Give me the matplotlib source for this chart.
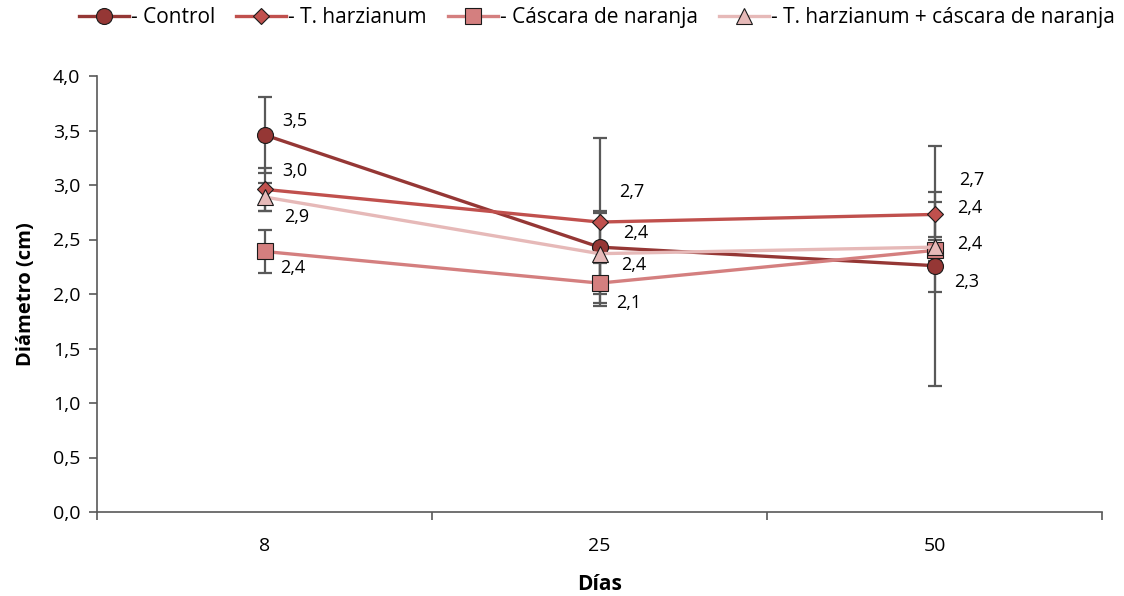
import matplotlib
matplotlib.use("Agg")
import matplotlib.pyplot as plt
import numpy as np

plt.rcParams['font.family'] = ['Open Sans', 'DejaVu Sans']

days = ["8", "25", "50"]
series_names = ["- Control", "- T. harzianum", "- Cáscara de naranja",
                "- T. harzianum + cáscara de naranja"]
control = [3.46, 2.43, 2.26]
harzianum = [2.96, 2.66, 2.73]
cascara = [2.39, 2.10, 2.40]
combo = [2.89, 2.37, 2.43]
err_control = [0.35, 0.33, 1.10]
err_harzianum = [0.20, 0.77, 0.21]
err_cascara = [0.20, 0.18, 0.10]
err_combo = [0.13, 0.37, 0.41]
y_ticks = [0.0, 0.5, 1.0, 1.5, 2.0, 2.5, 3.0, 3.5, 4.0]

values = [control, harzianum, cascara, combo]
errors = [err_control, err_harzianum, err_cascara, err_combo]
colors = ["#953735", "#C0504D", "#D47F7F", "#E6B9B8"]
fills = ["#953735", "#C0504D", "#D47F7F", "#E6B9B8"]
markers = ["o", "D", "s", "^"]
msizes = [11.5, 8.5, 11, 11.5]
# label offsets in pixels per series per point
offsets = [
    [(30, 14), (36, 14), (32, -16)],
    [(30, 18), (32, 30), (37, 34)],
    [(28, -17), (29, -20), (35, 6)],
    [(32, -20), (34, -11), (35, 39)],
]

fig = plt.figure(figsize=(11.24, 5.96), dpi=100)
ax = fig.add_axes([97/1124, (596-512)/596, (1102-97)/1124, (512-76)/596])

x = np.arange(len(days))
for vals, errs, c in zip(values, errors, colors):
    ax.errorbar(x, vals, yerr=errs, fmt='none', ecolor='#595959',
                elinewidth=1.6, capsize=5, capthick=1.6, zorder=2)

for i, (vals, name) in enumerate(zip(values, series_names)):
    ax.plot(x, vals, color=colors[i], lw=2.4, marker=markers[i],
            markersize=msizes[i], markerfacecolor=fills[i],
            markeredgecolor='#1a1a1a', markeredgewidth=0.8,
            label=name, zorder=3 + i * 0.1)
    for j, v in enumerate(vals):
        lbl = f"{v:.1f}".replace(".", ",")
        ax.annotate(lbl, (x[j], v), xytext=offsets[i][j],
                    textcoords='offset pixels', ha='center', va='center',
                    fontsize=13, color='black', zorder=6)

ax.set_xlim(-0.5, len(days) - 0.5)
ax.set_ylim(0, 4)
ax.set_yticks(y_ticks)
ax.set_yticklabels([f"{t:.1f}".replace(".", ",") for t in y_ticks], fontsize=14)
ax.set_xticks(x)
ax.set_xticklabels(days, fontsize=14)
ax.set_xticks(np.arange(-0.5, len(days)), minor=True)
ax.tick_params(axis='x', which='major', length=0, pad=18)
ax.tick_params(axis='x', which='minor', length=6, color='#595959', width=1.2)
ax.tick_params(axis='y', length=6, color='#595959', width=1.2, pad=6)
for s in ['top', 'right']:
    ax.spines[s].set_visible(False)
for s in ['left', 'bottom']:
    ax.spines[s].set_color('#595959')
    ax.spines[s].set_linewidth(1.2)

ax.set_ylabel("Diámetro (cm)", fontsize=14.5, fontweight='bold', labelpad=12)
ax.set_xlabel("Días", fontsize=15, fontweight='bold', labelpad=14)

leg = fig.legend(loc='upper center', bbox_to_anchor=(0.531, 1.005), ncol=4,
                 frameon=False, fontsize=15, handlelength=2.4,
                 handletextpad=0.1, columnspacing=1.0, borderaxespad=0.1)

fig.savefig("out.png", dpi=100)
